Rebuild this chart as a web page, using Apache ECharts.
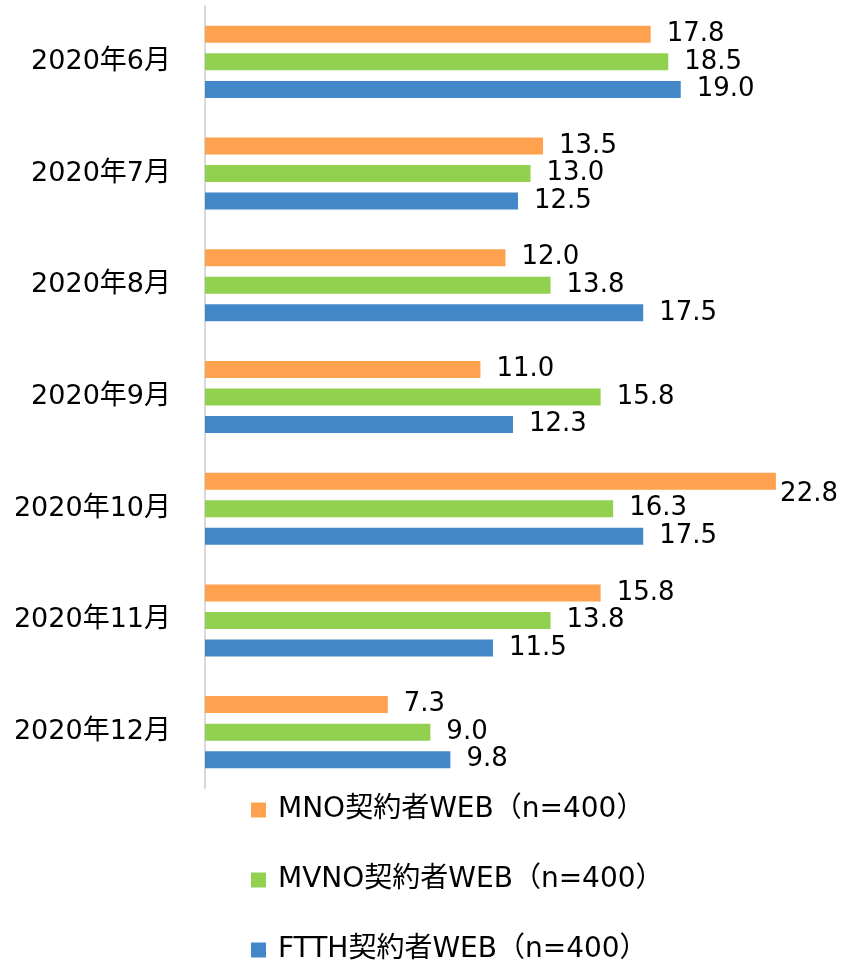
<!DOCTYPE html>
<html>
<head>
<meta charset="utf-8">
<script src="https://cdn.jsdelivr.net/npm/echarts@6/dist/echarts.min.js"></script>
<style>
  html, body { margin: 0; padding: 0; background: #fff; }
  #main { width: 841px; height: 968px; }
</style>
</head>
<body>
<div id="main"></div>
<script>
var months = ['2020年6月', '2020年7月', '2020年8月', '2020年9月', '2020年10月', '2020年11月', '2020年12月'];
var seriesNames = ['MNO契約者WEB（n=400）', 'MVNO契約者WEB（n=400）', 'FTTH契約者WEB（n=400）'];
var mnoValues = [17.8, 13.5, 12.0, 11.0, 22.8, 15.8, 7.3];
var mvnoValues = [18.5, 13.0, 13.8, 15.8, 16.3, 13.8, 9.0];
var ftthValues = [19.0, 12.5, 17.5, 12.3, 17.5, 11.5, 9.8];
var colors = ['#FFA24F', '#92D050', '#4288C8'];

var chartDom = document.getElementById('main');
var myChart = echarts.init(chartDom);
var font = '"DejaVu Sans", "Noto Sans CJK JP", sans-serif';

function makeSeries(name, data, color) {
    return {
        name: name,
        type: 'bar',
        data: data,
        barWidth: 17,
        barGap: '62%',
        barCategoryGap: '35%',
        itemStyle: { color: color },
        label: {
            show: true,
            position: 'right',
            distance: 16,
            color: '#000',
            fontSize: 26,
            fontFamily: font,
            formatter: function (p) { return p.value.toFixed(1); }
        },
        // like excel: pull a label back in when it runs past the edge
        labelLayout: function (params) {
            var r = params.labelRect;
            if (r.x + r.width > 838) {
                return { x: 838 - r.width };
            }
        }
    };
}

var option = {
    animation: false,
    color: colors,
    grid: { left: 205, right: 10, top: 6, bottom: 180, containLabel: false },
    xAxis: {
        type: 'value',
        min: 0,
        max: 25,
        show: false
    },
    yAxis: {
        type: 'category',
        data: months,
        inverse: true,
        axisLine: { show: true, lineStyle: { color: '#D9D9D9', width: 2 } },
        axisTick: { show: false },
        axisLabel: { color: '#000', fontSize: 27, fontFamily: font, margin: 34 }
    },
    legend: {
        orient: 'vertical',
        left: 251,
        top: 796,
        padding: 0,
        itemWidth: 15,
        itemHeight: 15,
        itemGap: 42,
        icon: 'rect',
        data: seriesNames,
        textStyle: { color: '#000', fontSize: 28, lineHeight: 28, fontFamily: font, padding: [0, 0, 0, 7] }
    },
    series: [
        makeSeries(seriesNames[0], mnoValues, colors[0]),
        makeSeries(seriesNames[1], mvnoValues, colors[1]),
        makeSeries(seriesNames[2], ftthValues, colors[2])
    ]
};
myChart.setOption(option);
</script>
</body>
</html>
